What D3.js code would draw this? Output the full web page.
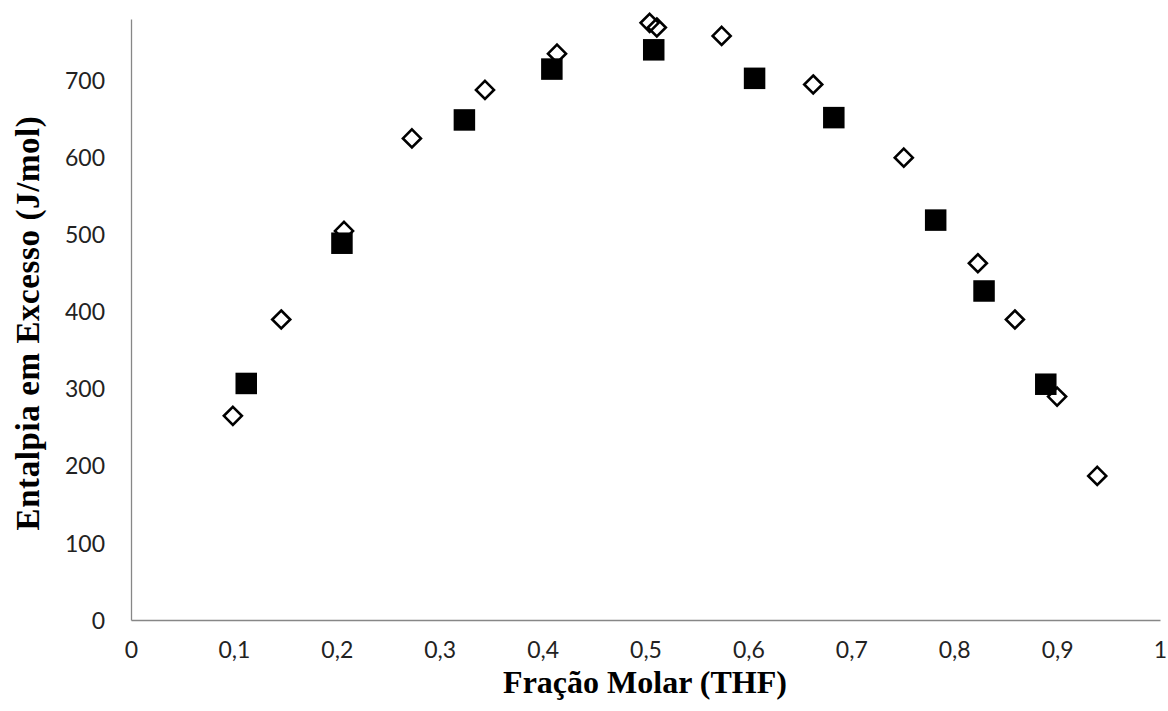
<!DOCTYPE html>
<html>
<head>
<meta charset="utf-8">
<script src="https://cdn.jsdelivr.net/npm/d3@7"></script>
<style>
  html, body { margin: 0; padding: 0; background: #fff; }
  svg { display: block; }
</style>
</head>
<body>
<svg id="chart" width="1168" height="711"></svg>
<script>
// Excess enthalpy of THF mixtures vs. THF mole fraction
const diamondX = [0.099, 0.146, 0.207, 0.273, 0.344, 0.414, 0.504, 0.511, 0.574, 0.663, 0.751, 0.823, 0.859, 0.900, 0.939];
const diamondY = [265, 390, 505, 625, 688, 735, 775, 769, 758, 695, 600, 463, 390, 290, 187];

const squareX = [0.112, 0.205, 0.324, 0.409, 0.508, 0.606, 0.683, 0.782, 0.829, 0.889];
const squareY = [307, 489, 649, 715, 740, 703, 652, 519, 427, 306];

const xTicks = [0, 0.1, 0.2, 0.3, 0.4, 0.5, 0.6, 0.7, 0.8, 0.9, 1];
const yTicks = [0, 100, 200, 300, 400, 500, 600, 700];

const xTitle = "Fração Molar (THF)";
const yTitle = "Entalpia em Excesso (J/mol)";

const svg = d3.select("#chart");

const x = d3.scaleLinear().domain([0, 1]).range([131, 1160]);
const y = d3.scaleLinear().domain([0, 780]).range([620, 19]);

const fmtX = v => (v === 0 || v === 1) ? String(v) : d3.format(".1f")(v).replace(".", ",");

const tickFont = "Lato, 'Open Sans', sans-serif";
const titleFont = "'Liberation Serif', 'Times New Roman', serif";

// bottom axis
const xAxis = svg.append("g")
  .attr("transform", `translate(0,${y(0)})`)
  .call(d3.axisBottom(x).tickValues(xTicks).tickFormat(fmtX).tickSize(0).tickPadding(22));
// left axis
const yAxis = svg.append("g")
  .attr("transform", `translate(${x(0)},0)`)
  .call(d3.axisLeft(y).tickValues(yTicks).tickSize(0).tickPadding(26));

[xAxis, yAxis].forEach(g => {
  g.select(".domain").attr("stroke", "#878787").attr("stroke-width", 1.3);
  g.selectAll("text")
    .attr("font-family", tickFont)
    .attr("font-size", 23)
    .attr("fill", "#222");
});
xAxis.selectAll("text").attr("dy", "0.71em");
yAxis.selectAll("text").attr("dy", "0.35em");

// filled squares
const sq = 21.5;
svg.append("g")
  .selectAll("rect")
  .data(squareX.map((v, i) => [v, squareY[i]]))
  .join("rect")
  .attr("x", d => x(d[0]) - sq / 2)
  .attr("y", d => y(d[1]) - sq / 2)
  .attr("width", sq)
  .attr("height", sq)
  .attr("fill", "#000");

// open diamonds
const r = 9;
svg.append("g")
  .selectAll("path")
  .data(diamondX.map((v, i) => [v, diamondY[i]]))
  .join("path")
  .attr("d", d => {
    const cx = x(d[0]), cy = y(d[1]);
    return `M${cx},${cy - r}L${cx + r},${cy}L${cx},${cy + r}L${cx - r},${cy}Z`;
  })
  .attr("fill", "none")
  .attr("stroke", "#000")
  .attr("stroke-width", 2.6);

// axis titles
svg.append("text")
  .attr("x", 645)
  .attr("y", 693)
  .attr("text-anchor", "middle")
  .attr("font-family", titleFont)
  .attr("font-weight", "bold")
  .attr("font-size", 32)
  .attr("fill", "#000")
  .text(xTitle);

svg.append("text")
  .attr("transform", "translate(39,323) rotate(-90)")
  .attr("text-anchor", "middle")
  .attr("font-family", titleFont)
  .attr("font-weight", "bold")
  .attr("font-size", 33)
  .attr("letter-spacing", 0.6)
  .attr("fill", "#000")
  .text(yTitle);
</script>
</body>
</html>
